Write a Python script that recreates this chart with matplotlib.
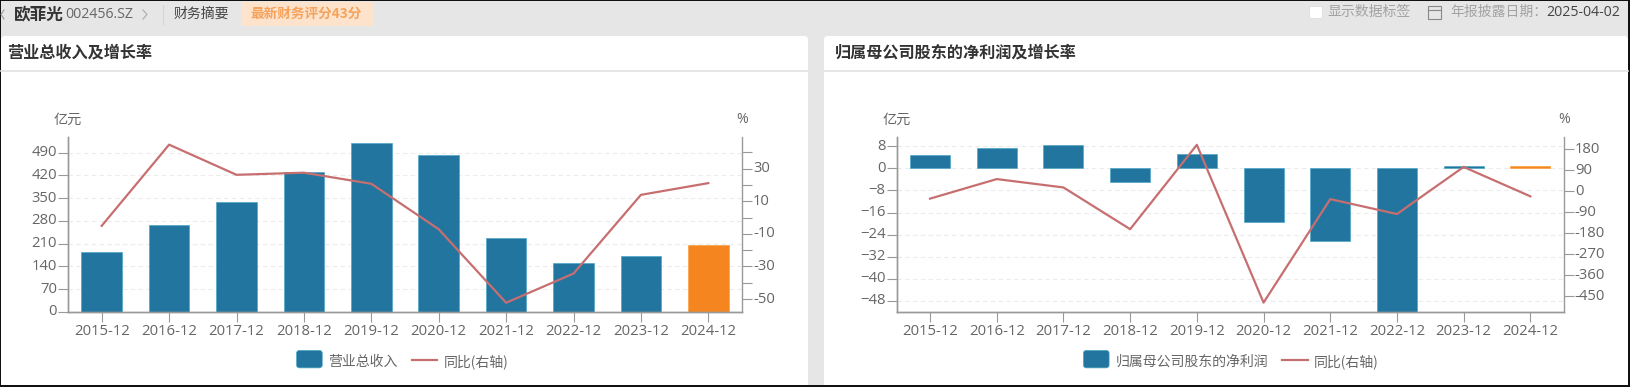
import matplotlib
matplotlib.use('Agg')
import matplotlib.pyplot as plt
from matplotlib.patches import Rectangle, FancyBboxPatch
from matplotlib.legend_handler import HandlerPatch
from matplotlib.transforms import ScaledTranslation

plt.rcParams['font.family'] = ['Open Sans', 'Noto Sans CJK SC', 'DejaVu Sans']

W, H = 1631, 387

# data
years = ['2015-12', '2016-12', '2017-12', '2018-12', '2019-12',
         '2020-12', '2021-12', '2022-12', '2023-12', '2024-12']

revenue = [185, 267, 337, 430, 519, 483, 228, 149, 170, 205]
revenue_yoy = [-5.1, 44.7, 26.2, 27.5, 20.7, -7.2, -52.3, -34.4, 13.9, 21.1]
revenue_ticks = [0, 70, 140, 210, 280, 350, 420, 490]
revenue_yoy_ticks = [-50, -40, -30, -20, -10, 0, 10, 20, 30, 40]
revenue_yoy_labels = ['-50', '', '-30', '', '-10', '', '10', '', '30', '']

profit = [4.85, 7.3, 8.4, -5.0, 5.2, -19.4, -26.2, -52, 0.8, 0.7]
profit_yoy = [-31, 53, 17, -162, 200, -477, -33, -97, 105, -21]
profit_ticks = [8, 0, -8, -16, -24, -32, -40, -48]
profit_yoy_ticks = [180, 90, 0, -90, -180, -270, -360, -450]

BAR = '#21759f'
BAR_EDGE = '#4fa6c8'
ORANGE = '#f5861f'
LINE = '#c76f70'
AXIS = '#999999'
TEXT = '#666666'
CJK = ['Noto Sans CJK SC', 'DejaVu Sans']
TICK_SIZE = 10.7

fig = plt.figure(figsize=(W / 100, H / 100), dpi=100, facecolor='#e6e6e6')

# page chrome, drawn in pixel coordinates
bg = fig.add_axes([0, 0, 1, 1], zorder=-1)
bg.set_xlim(0, W)
bg.set_ylim(H, 0)
bg.axis('off')

for x0, x1 in [(1, 808), (824, 1628)]:
    bg.add_patch(FancyBboxPatch((x0 + 4, 40), x1 - x0 - 8, 350,
                                boxstyle='round,pad=4', fc='white', ec='none'))
    bg.plot([x0, x1], [71, 71], color='#e2e2e2', lw=1.2)

bg.text(7, 52, '营业总收入及增长率', fontsize=11.6, fontweight='bold', color='#333333', va='center', family=CJK)
bg.text(835, 52, '归属母公司股东的净利润及增长率', fontsize=11.6, fontweight='bold', color='#333333', va='center', family=CJK)

# header strip
bg.plot([4, 1, 4], [10, 14.5, 19], color='#999999', lw=0.8)
bg.text(13.5, 14, '欧菲光', fontsize=12, fontweight='bold', color='#333333', va='center', family=CJK)
bg.text(65, 14.5, '002456.SZ', fontsize=10.2, color='#666666', va='center')
bg.plot([143, 147, 143], [10, 14.5, 19], color='#aaaaaa', lw=0.8)
bg.plot([163, 163], [5, 24], color='#d4d4d4', lw=0.8)
bg.text(174, 14, '财务摘要', fontsize=10, color='#444444', va='center', family=CJK)
bg.add_patch(FancyBboxPatch((243, 4), 128, 20, boxstyle='round,pad=2',
                            fc='#fde3cc', ec='none'))
bg.text(250, 14, '最新财务评分43分', fontsize=9.8, fontweight='bold', color='#f5a35c', va='center', family=CJK)

bg.add_patch(FancyBboxPatch((1311, 8), 10, 9, boxstyle='round,pad=1.5',
                            fc='white', ec='#dddddd', lw=0.6))
bg.text(1327, 12, '显示数据标签', fontsize=10, color='#a3a3a3', va='center', family=CJK)
bg.add_patch(Rectangle((1428, 6), 13, 13, fc='none', ec='#888888', lw=0.8))
bg.plot([1428, 1441], [10, 10], color='#888888', lw=0.8)
bg.text(1450, 12, '年报披露日期：', fontsize=10, color='#a3a3a3', va='center', family=CJK)
bg.text(1546, 12.5, '2025-04-02', fontsize=10.2, color='#444444', va='center')

# black frame of the screenshot
bg.add_patch(Rectangle((0, 0), W, 1, fc='#111111', ec='none'))
bg.add_patch(Rectangle((0, 0), 1, H, fc='#111111', ec='none'))
bg.add_patch(Rectangle((0, 385), W, 2, fc='#111111', ec='none'))
bg.add_patch(Rectangle((1628.5, 0), 2.5, H, fc='#111111', ec='none'))


def round_handle(legend, orig_handle, xdescent, ydescent, width, height, fontsize):
    return FancyBboxPatch((2 - xdescent, 2 - ydescent), width - 4, height - 1,
                          boxstyle='round,pad=2', mutation_aspect=1)


def make_chart(left, right, values, yoy, ylim, yticks, ylim2, yticks2, labels2, bar_name, legend_x):
    top, bottom = 137, 311.7
    ax = fig.add_axes([left / W, 1 - bottom / H, (right - left) / W, (bottom - top) / H])
    ax.patch.set_alpha(0)
    x = list(range(len(years)))
    colors = [BAR] * 9 + [ORANGE]
    edges = [BAR_EDGE] * 9 + ['#f9a040']
    bars = ax.bar(x, values, width=0.6, color=colors, edgecolor=edges, linewidth=0.5,
                  label=bar_name, zorder=2)
    ax.set_xlim(-0.5, 9.5)
    ax.set_ylim(*ylim)
    ax.set_yticks(yticks)
    ax.set_xticks(x)
    ax.set_xticklabels(years)
    ax.grid(axis='y', color='#ececec', lw=0.8, ls=(0, (4, 3)), zorder=0)
    ax.tick_params(axis='y', length=7, width=0.8, color=AXIS, labelcolor=TEXT, labelsize=TICK_SIZE, pad=1)
    ax.tick_params(axis='x', length=7, width=0.8, color=AXIS, labelcolor=TEXT, labelsize=TICK_SIZE, pad=1.5)

    ax2 = ax.twinx()
    line, = ax2.plot(x, yoy, color=LINE, lw=1.6, label='同比(右轴)', zorder=3)
    ax2.set_ylim(*ylim2)
    ax2.set_yticks(yticks2)
    ax2.set_yticklabels(labels2)
    ax2.tick_params(axis='y', length=7, width=0.8, color=AXIS, labelcolor=TEXT, labelsize=TICK_SIZE, pad=1)

    # the page draws value labels a little above their ticks
    shift = ScaledTranslation(0, 1.3 / 72, fig.dpi_scale_trans)
    for lab in ax.get_yticklabels() + ax2.get_yticklabels():
        lab.set_transform(lab.get_transform() + shift)

    for a in (ax, ax2):
        a.spines['top'].set_visible(False)
        for s in ('left', 'right', 'bottom'):
            a.spines[s].set_color(AXIS)
            a.spines[s].set_linewidth(1)
    ax.spines['right'].set_visible(False)

    ax.text(0, 1.098, '亿元', transform=ax.transAxes, ha='center', va='center', fontsize=10.2, color=TEXT, family=CJK)
    ax.text(1, 1.098, '%', transform=ax.transAxes, ha='center', va='center', fontsize=10.2, color=TEXT)

    handle = bars[0]
    fig.legend([handle, line], [bar_name, '同比(右轴)'], ncol=2, frameon=False,
               loc='center', bbox_to_anchor=(legend_x / W, 1 - 361.5 / H),
               labelcolor=TEXT, handlelength=1.85, handleheight=1.1,
               columnspacing=1.0, handletextpad=0.45,
               prop={'family': CJK, 'size': 10},
               handler_map={handle: HandlerPatch(patch_func=round_handle)})
    return ax, ax2


make_chart(68, 742, revenue, revenue_yoy, (0, 538), revenue_ticks,
           (-57.8, 49.4), revenue_yoy_ticks, revenue_yoy_labels, '营业总收入', 402.5)
make_chart(896.7, 1563.7, profit, profit_yoy, (-52, 11.4), profit_ticks,
           (-516, 233.5), profit_yoy_ticks, [str(v) for v in profit_yoy_ticks],
           '归属母公司股东的净利润', 1231)

fig.savefig('out.png', dpi=100, facecolor=fig.get_facecolor())
